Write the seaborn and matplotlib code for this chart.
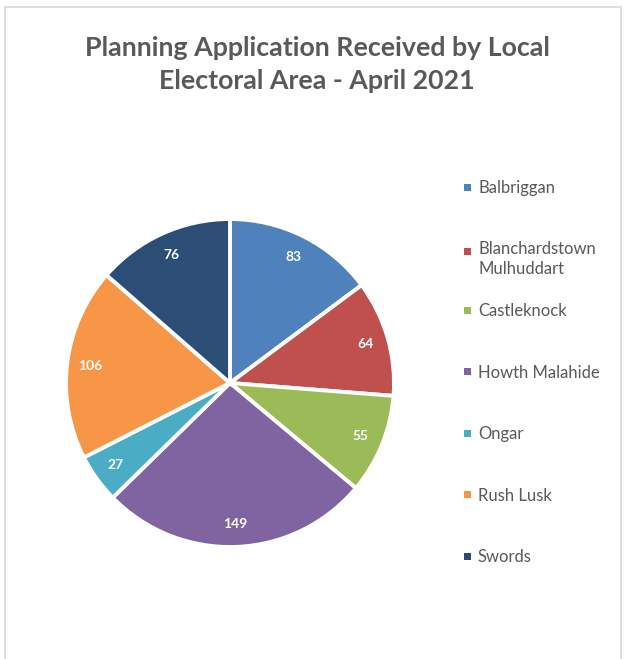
import matplotlib
matplotlib.use("Agg")
import matplotlib.pyplot as plt
import seaborn as sns
from matplotlib.patches import Rectangle

areas = ["Balbriggan", "Blanchardstown\nMulhuddart", "Castleknock", "Howth Malahide",
         "Ongar", "Rush Lusk", "Swords"]
counts = [83, 64, 55, 149, 27, 106, 76]
colors = ["#4F81BD", "#C0504D", "#9BBB59", "#8064A2", "#4BACC6", "#F79646", "#2C4D75"]
title = "Planning Application Received by Local\nElectoral Area - April 2021"

sns.set_theme(style="white")
plt.rcParams['font.family'] = ['Lato', 'DejaVu Sans']

W, H = 625, 659
fig = plt.figure(figsize=(W / 100, H / 100), dpi=100)
fig.patch.set_facecolor("white")

# frame like the chart area border
fig.add_artist(Rectangle((5 / W, -0.05), (621 - 5) / W, (H - 7) / H + 0.05,
                         transform=fig.transFigure, fill=False,
                         edgecolor="#D9D9D9", linewidth=1.2))

cx, cy, r = 230, 383, 164
ax = fig.add_axes([(cx - r) / W, (H - cy - r) / H, 2 * r / W, 2 * r / H])
wedges, texts, autotexts = ax.pie(
    counts, colors=colors, startangle=90, counterclock=False,
    autopct=lambda p: f"{round(p * sum(counts) / 100):d}", pctdistance=0.86,
    wedgeprops=dict(edgecolor="white", linewidth=2.8),
    textprops=dict(color="white", fontsize=10, fontweight="bold"))
ax.set_xlim(-1.0, 1.0)
ax.set_ylim(-1.0, 1.0)
ax.set_aspect("equal")
ax.axis("off")

fig.text(317 / W, (H - 64.5) / H, title, ha="center", va="center",
         fontsize=19.3, fontweight="bold", color="#595959", linespacing=1.45)

# legend
y0, dy = 187, 61.5
for i, (lab, col) in enumerate(zip(areas, colors)):
    y = y0 + i * dy
    if "\n" in lab:
        y += 3
    fig.add_artist(Rectangle((464 / W, (H - y - 3.5) / H), 7 / W, 7 / H,
                             transform=fig.transFigure, facecolor=col, edgecolor="none"))
    if "\n" in lab:
        fig.text(478 / W, (H - y + 10) / H, lab, ha="left", va="top",
                 fontsize=12, color="#595959", linespacing=1.3)
    else:
        fig.text(478 / W, (H - y) / H, lab, ha="left", va="center_baseline",
                 fontsize=12, color="#595959")

fig.savefig("out.png", dpi=100, facecolor="white")
